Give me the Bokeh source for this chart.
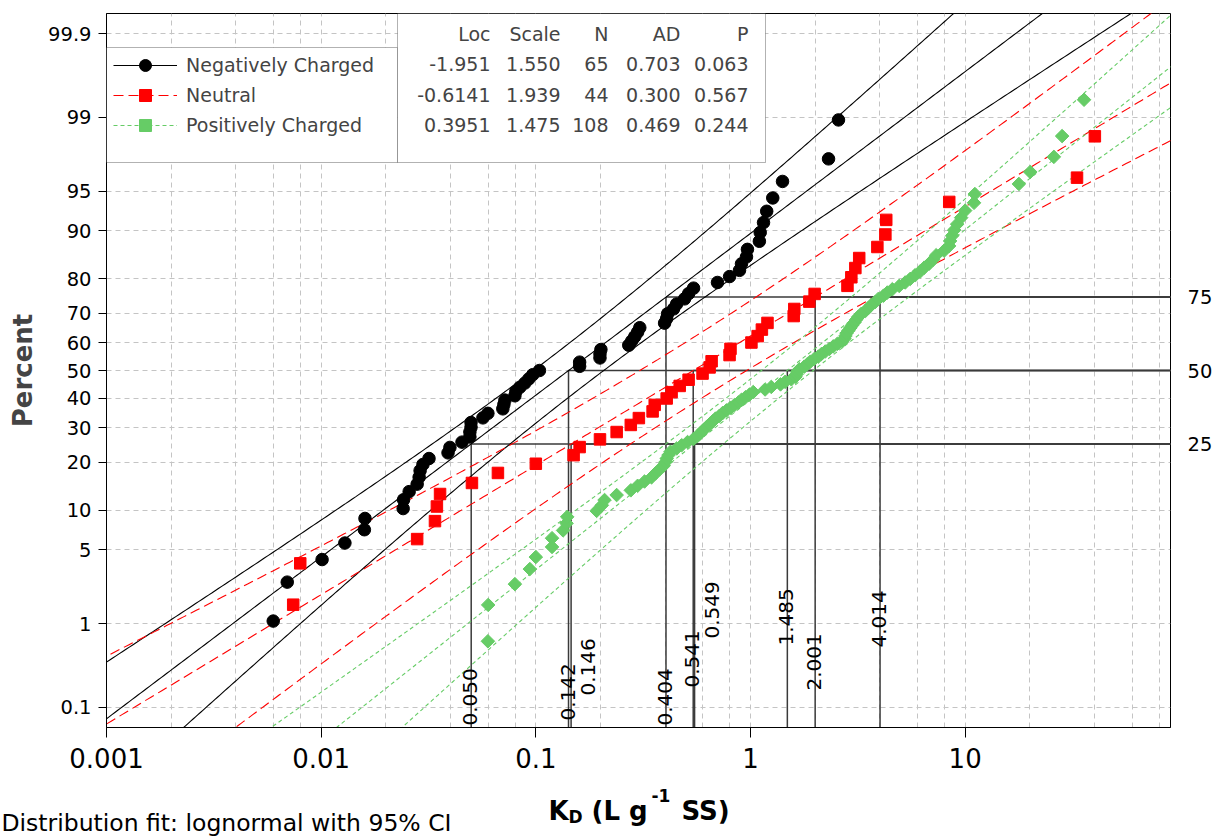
import math
import numpy as np
from statistics import NormalDist
from bokeh.plotting import figure
from bokeh.layouts import column
from bokeh.models import (Range1d, FixedTicker, LinearAxis, Label, BoxAnnotation,
                          Legend, LegendItem)
from bokeh.embed import file_html
from bokeh.resources import INLINE

# ---------------- data ----------------
groups = ["Negatively Charged", "Neutral", "Positively Charged"]
loc = [-1.951, -0.6141, 0.3951]
scale = [1.550, 1.939, 1.475]
n_obs = [65, 44, 108]
ad_stat = [0.703, 0.300, 0.469]
p_value = [0.063, 0.567, 0.244]

kd_negative = [0.00598, 0.00695, 0.0101, 0.0129, 0.0159, 0.0160, 0.0241, 0.0242, 0.0257, 0.0280,
               0.0286, 0.0289, 0.0298, 0.0318, 0.0390, 0.0398, 0.0453, 0.0493, 0.0493, 0.0499,
               0.0499, 0.0567, 0.0598, 0.0702, 0.0710, 0.0718, 0.0799, 0.0807, 0.0843, 0.0889,
               0.0928, 0.0968, 0.104, 0.160, 0.160, 0.199, 0.199, 0.201, 0.271, 0.280,
               0.289, 0.298, 0.305, 0.398, 0.407, 0.411, 0.438, 0.453, 0.493, 0.515,
               0.543, 0.702, 0.799, 0.889, 0.908, 0.958, 0.968, 1.10, 1.11, 1.15,
               1.19, 1.27, 1.41, 2.31, 2.57]
kd_neutral = [0.00741, 0.00799, 0.0280, 0.0339, 0.0346, 0.0358, 0.0504, 0.0666, 0.100, 0.150,
              0.160, 0.199, 0.238, 0.277, 0.302, 0.350, 0.358, 0.407, 0.429, 0.468,
              0.515, 0.598, 0.645, 0.659, 0.799, 0.807, 1.01, 1.08, 1.13, 1.20,
              1.59, 1.60, 1.88, 1.99, 2.83, 2.95, 3.08, 3.21, 3.90, 4.25,
              4.29, 8.43, 33.2, 40.2]
kd_positive = [0.0598, 0.0600, 0.0799, 0.0938, 0.100, 0.119, 0.119, 0.134, 0.139, 0.140,
               0.192, 0.203, 0.209, 0.238, 0.277, 0.298, 0.321, 0.346, 0.361, 0.377,
               0.394, 0.402, 0.407, 0.415, 0.424, 0.453, 0.478, 0.509, 0.543, 0.567,
               0.585, 0.604, 0.624, 0.645, 0.666, 0.687, 0.717, 0.741, 0.773, 0.807,
               0.842, 0.879, 0.908, 0.948, 0.989, 1.03, 1.17, 1.25, 1.38, 1.45,
               1.55, 1.62, 1.64, 1.65, 1.69, 1.78, 1.84, 1.90, 1.98, 2.07,
               2.14, 2.23, 2.33, 2.43, 2.54, 2.68, 2.74, 2.77, 2.80, 2.86,
               2.92, 2.98, 3.05, 3.11, 3.18, 3.28, 3.43, 3.54, 3.65, 3.81,
               3.94, 4.16, 4.34, 4.58, 4.93, 5.26, 5.55, 5.85, 6.17, 6.45,
               6.80, 7.10, 7.33, 7.98, 8.42, 8.51, 8.70, 8.89, 9.18, 9.58,
               10.0, 11.0, 11.1, 17.8, 20.1, 25.9, 28.3, 35.8]
series_kd = [kd_negative, kd_neutral, kd_positive]

pct_levels = [25, 50, 75]
pct_negative = [0.050, 0.142, 0.404]
pct_neutral = [0.146, 0.541, 2.001]
pct_positive = [0.549, 1.485, 4.014]
series_pct = [pct_negative, pct_neutral, pct_positive]

y_tick_pct = [0.1, 1, 5, 10, 20, 30, 40, 50, 60, 70, 80, 90, 95, 99, 99.9]
y_tick_labels = ["0.1", "1", "5", "10", "20", "30", "40", "50", "60", "70", "80", "90", "95", "99", "99.9"]
x_tick_vals = [0.001, 0.01, 0.1, 1.0, 10.0]
x_tick_labels = ["0.001", "0.01", "0.1", "1", "10"]
table_header = ["Loc", "Scale", "N", "AD", "P"]

# ---------------- helpers ----------------
ND = NormalDist()
def probit(pct):
    return ND.inv_cdf(pct / 100.0)

FONT = "DejaVu Sans"
W, H_MAIN, H_FOOT = 1215, 780, 58
FL, FR, FT, FB = 106, 1172, 13, 727   # frame edges in canvas px
def sx(cx):
    return cx - FL
def sy(cy):
    return FB - cy

colors = ["#000000", "#ff0000", "#66cc66"]
dashes = ["solid", "10 5", "4 3"]
markers = ["circle", "square", "square"]
msizes = [12.5, 11.5, 9.6]
mangles = [0.0, 0.0, math.pi / 4]

p = figure(width=W, height=H_MAIN, x_axis_type="log",
           x_range=Range1d(0.001, 90.5), y_range=Range1d(-3.278, 3.278),
           output_backend="svg", toolbar_location=None,
           min_border_left=FL, min_border_right=W - FR,
           min_border_top=FT, min_border_bottom=H_MAIN - FB)
p.frame_align = False
p.background_fill_color = "white"
p.border_fill_color = "white"
p.outline_line_color = "black"
p.outline_line_width = 1

# axes
z_ticks = [probit(v) for v in y_tick_pct]
p.yaxis.ticker = FixedTicker(ticks=z_ticks)
p.yaxis.major_label_overrides = dict(zip(z_ticks, y_tick_labels))
p.yaxis.axis_label = "Percent"
p.yaxis.axis_label_text_font = FONT
p.yaxis.axis_label_text_font_style = "bold"
p.yaxis.axis_label_text_font_size = "26px"
p.yaxis.axis_label_standoff = 7
p.xaxis.ticker = FixedTicker(ticks=x_tick_vals)
p.xaxis.major_label_overrides = dict(zip(x_tick_vals, x_tick_labels))
for ax in (p.xaxis, p.yaxis):
    ax.major_label_text_font = FONT
    ax.major_label_text_color = "black"
    ax.axis_line_color = "black"
    ax.major_tick_line_color = "black"
    ax.minor_tick_line_color = None
    ax.major_tick_in = 0
p.yaxis.major_tick_out = 8
p.yaxis.major_label_standoff = 7
p.yaxis.major_label_text_font_size = "19.5px"
p.xaxis.major_tick_out = 10
p.xaxis.major_label_standoff = 10
p.xaxis.major_label_text_font_size = "26px"

# right axis with reference percent labels
z_ref = [probit(v) for v in pct_levels]
rax = LinearAxis(ticker=FixedTicker(ticks=z_ref),
                 major_label_overrides=dict(zip(z_ref, [str(v) for v in pct_levels])),
                 axis_line_color=None, major_tick_line_color=None, minor_tick_line_color=None,
                 major_label_standoff=11, major_label_text_font=FONT,
                 major_label_text_color="black", major_label_text_font_size="19.5px")
p.add_layout(rax, "right")

# grid
xgrid_vals = [m * 10.0 ** k for k in range(-3, 2) for m in (1, 2, 4, 6, 8)]
p.xgrid.ticker = FixedTicker(ticks=xgrid_vals)
p.ygrid.ticker = FixedTicker(ticks=z_ticks)
for g in (p.xgrid, p.ygrid):
    g.grid_line_color = "#c4c4c4"
    g.grid_line_dash = "5 4"
    g.grid_line_width = 1

# percentile reference lines
vx0, vy0, vx1, vy1 = [], [], [], []
for vals in series_pct:
    for v, lev in zip(vals, pct_levels):
        zl = probit(lev)
        vx0 += [v, v]; vx1 += [v, 1.0e4]
        vy0 += [-10.0, zl]; vy1 += [zl, zl]
p.segment(x0=vx0, y0=vy0, x1=vx1, y1=vy1, line_color="#3a3a3a", line_width=1.5)

# fit lines and 95% confidence bands
zgrid = np.linspace(-3.6, 3.6, 361)
fit_renderers = []
for i in range(3):
    n = n_obs[i]
    m = loc[i] + zgrid * scale[i]
    half = 1.96 * scale[i] * np.sqrt(1.0 / n + zgrid ** 2 / (2.0 * n))
    kw = dict(line_color=colors[i], line_dash=dashes[i], line_width=1.1)
    fit_renderers.append(p.line(np.exp(m), zgrid, **kw))
    p.line(np.exp(m - half), zgrid, **kw)
    p.line(np.exp(m + half), zgrid, **kw)

# points
pts = []
for i in range(3):
    kd = sorted(series_kd[i])
    n = len(kd)
    # Minitab median-rank plotting positions
    zpos = [probit(100.0 * (k + 1 - 0.3) / (n + 0.4)) for k in range(n)]
    pts.append(p.scatter(kd, zpos, marker=markers[i], size=msizes[i], angle=mangles[i],
                         fill_color=colors[i], line_color=colors[i]))

# labels on vertical reference lines
label_side = ["L", "L", "L", "R", "L", "L", "R", "L", "L"]
label_bottom = [725, 720, 725, 695, 687, 690, 638, 645, 647]
k = 0
for vals in series_pct:
    for v in vals:
        off = -1 if label_side[k] == "L" else 17
        p.add_layout(Label(x=v, y=sy(label_bottom[k]), x_units="data", y_units="screen",
                           text=f"{v:.3f}", angle=math.pi / 2, text_align="left",
                           text_baseline="alphabetic", x_offset=off,
                           text_font=FONT, text_font_size="20px", text_color="black"))
        k += 1

# legend box and table box
box_kw = dict(left_units="screen", right_units="screen", top_units="screen",
              bottom_units="screen", fill_color="white", fill_alpha=1.0,
              line_color="black", line_width=1, level="annotation")
p.add_layout(BoxAnnotation(left=sx(106), right=sx(397), top=sy(47), bottom=sy(162), **box_kw))
p.add_layout(BoxAnnotation(left=sx(397), right=sx(765), top=sy(13), bottom=sy(162), **box_kw))

col_right = [490, 560, 608, 680, 748]
row_y = [33, 63, 94, 124]
for c, h in enumerate(table_header):
    p.add_layout(Label(x=sx(col_right[c]), y=sy(row_y[0]), x_units="screen", y_units="screen",
                       text=h, text_align="right", text_baseline="middle",
                       text_font=FONT, text_font_size="19px"))
for i in range(3):
    cells = [f"{loc[i]:#.4g}", f"{scale[i]:#.4g}", f"{n_obs[i]}",
             f"{ad_stat[i]:.3f}", f"{p_value[i]:.3f}"]
    for c, t in enumerate(cells):
        p.add_layout(Label(x=sx(col_right[c]), y=sy(row_y[i + 1]), x_units="screen",
                           y_units="screen", text=t, text_align="right",
                           text_baseline="middle", text_font=FONT, text_font_size="19px"))

legend = Legend(items=[LegendItem(label=groups[i], renderers=[fit_renderers[i], pts[i]])
                       for i in range(3)],
                location=(sx(113), sy(140)), glyph_width=64, glyph_height=30,
                label_height=30, spacing=0, padding=0, margin=0, label_standoff=9,
                border_line_color=None, background_fill_alpha=0.0,
                label_text_font=FONT, label_text_font_size="19px")
p.add_layout(legend, "center")

# ---------------- footer strip (x-axis title and note) ----------------
f = figure(width=W, height=H_FOOT, x_range=Range1d(0, W), y_range=Range1d(H_MAIN + H_FOOT, H_MAIN),
           output_backend="svg", toolbar_location=None,
           min_border_left=0, min_border_right=0, min_border_top=0, min_border_bottom=0)
f.frame_align = False
f.axis.visible = False
f.grid.visible = False
f.outline_line_color = None
f.background_fill_color = "white"
f.border_fill_color = "white"

# title pieces: (text, left x, baseline y, size)
xt = [("K", 548, 810, "26px"), ("D", 568, 816, "17px"), ("(L g", 591, 810, "26px"),
      ("-1", 651, 795, "17px"), ("SS)", 681, 810, "26px")]
for t, cx, cy, fs in xt:
    f.add_layout(Label(x=cx, y=cy, text=t, text_align="left", text_baseline="alphabetic",
                       text_font=FONT, text_font_style="bold", text_font_size=fs,
                       text_color="black"))
f.add_layout(Label(x=1, y=822, text="Distribution fit: lognormal with 95% CI",
                   text_align="left", text_baseline="alphabetic", text_font=FONT,
                   text_font_size="23.5px", text_color="black"))

root = column(p, f, spacing=0)
open("out.html", "w").write(file_html(root, INLINE))
